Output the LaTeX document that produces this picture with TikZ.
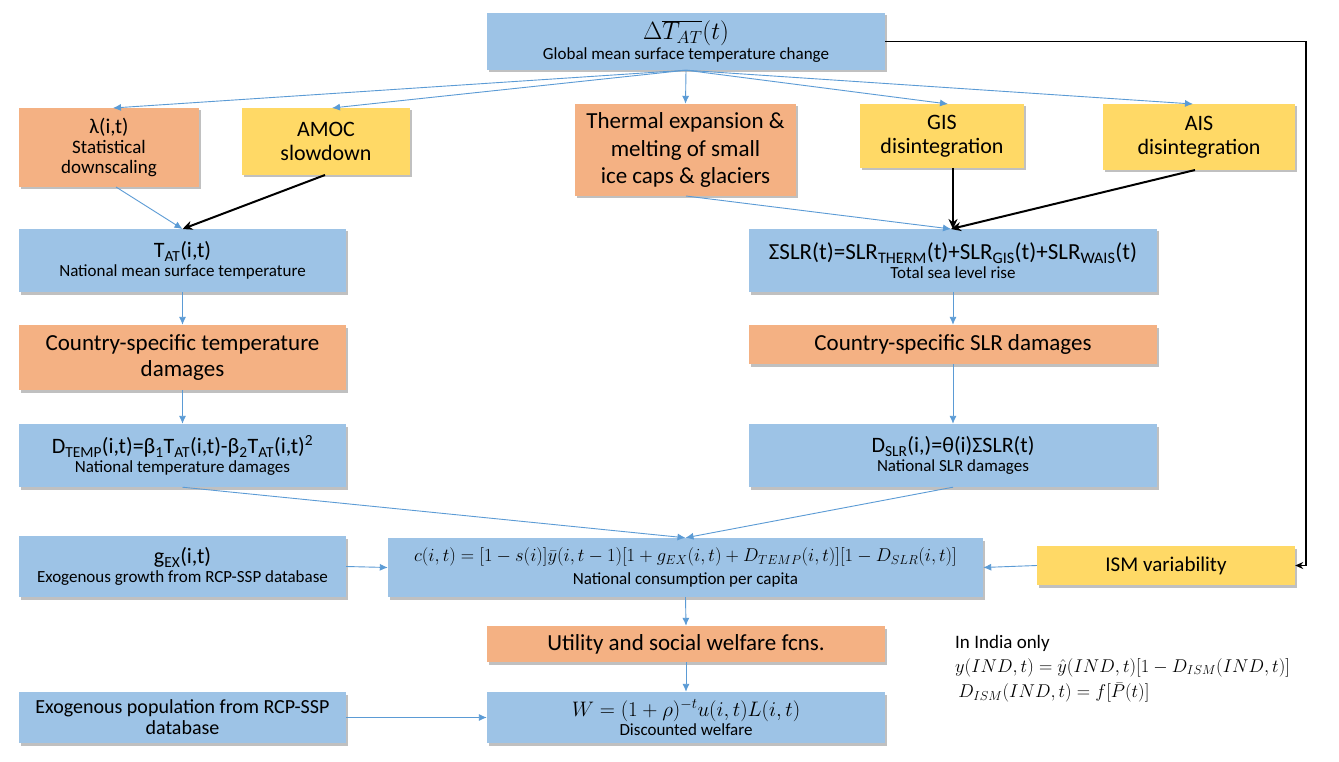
\RequirePackage{fix-cm}
\documentclass[tikz,border=0pt]{standalone}
\usepackage{fontspec}
\setmainfont{Carlito}
\usetikzlibrary{arrows.meta,shadows}
\newcommand\tsub[1]{\textsubscript{#1}}
\newcommand\tsup[1]{\textsuperscript{#1}}
\newcommand\fs[1]{\fontsize{#1}{1.2\dimexpr #1pt\relax}\selectfont}
\definecolor{bluebox}{HTML}{9DC3E6}
\definecolor{orangebox}{HTML}{F4B183}
\definecolor{yellowbox}{HTML}{FFD966}
\definecolor{bluearrow}{HTML}{5B9BD5}
\begin{document}
\begin{tikzpicture}[x=1pt,y=-1pt,
  box/.style={rectangle, inner sep=0pt, align=center, text=black,
    drop shadow={shadow xshift=2pt, shadow yshift=-2.5pt, opacity=0.35, fill=black!70}},
  bbox/.style={box, fill=bluebox},
  obox/.style={box, fill=orangebox},
  ybox/.style={box, fill=yellowbox},
  barrow/.style={draw=bluearrow, line width=0.9pt, -{Latex[length=8pt,width=7pt]}},
  karrow/.style={draw=black, line width=2pt, -{Stealth[length=10pt,width=9pt]}}
]
\useasboundingbox (0,0) rectangle (1339,762);
\fill[white] (0,0) rectangle (1339,762);

\node[bbox, minimum width=398pt, minimum height=57pt, font=\fs{17}] (top) at (686,41.5)
  {{\fs{25}$\Delta\overline{T_{AT}}(t)$}\\[-1pt]Global mean surface temperature change};

\node[obox, minimum width=180pt, minimum height=79pt, font=\fs{19}] (lam) at (109,147.5)
  {{\fs{21}λ(i,t)}\\[-3pt]Statistical\\[-3pt]downscaling};
\node[ybox, minimum width=168pt, minimum height=67pt, font=\fs{22}] (amoc) at (326,141.5)
  {AMOC\\[-2pt]slowdown};
\node[obox, minimum width=221pt, minimum height=92pt, font=\fs{23}] (therm) at (685.5,150)
  {Thermal expansion \&\\[-0.5pt]melting of small\\[-0.5pt]ice caps \& glaciers};
\node[ybox, minimum width=164pt, minimum height=64pt, font=\fs{22}] (gis) at (942,136)
  {GIS\\[-2pt]disintegration};
\node[ybox, minimum width=192pt, minimum height=66pt, font=\fs{22}] (ais) at (1199,137)
  {AIS\\[-2pt]disintegration};

\node[bbox, minimum width=327pt, minimum height=63pt, font=\fs{17}] (tat) at (182.5,260.5)
  {{\fs{22}T\tsub{AT}(i,t)}\\[-2pt]National mean surface temperature};
\node[bbox, minimum width=408pt, minimum height=63pt, font=\fs{17}] (slr) at (953,260.5)
  {{\fs{23}ΣSLR(t)=SLR\tsub{THERM}(t)+SLR\tsub{GIS}(t)+SLR\tsub{WAIS}(t)}\\[-2pt]Total sea level rise};

\node[obox, minimum width=327pt, minimum height=65pt, font=\fs{23}] (ctd) at (182.5,357.5)
  {Country-specific temperature\\[-1pt]damages};
\node[obox, minimum width=408pt, minimum height=39pt, font=\fs{23}] (csd) at (953,344.5)
  {Country-specific SLR damages};

\node[bbox, minimum width=327pt, minimum height=63pt, font=\fs{17}] (dtemp) at (182.5,455.5)
  {{\fs{22}D\tsub{TEMP}(i,t)=β\tsub{1}T\tsub{AT}(i,t)-β\tsub{2}T\tsub{AT}(i,t)\tsup{2}}\\[-2pt]National temperature damages};
\node[bbox, minimum width=408pt, minimum height=63pt, font=\fs{17}] (dslr) at (953,455.5)
  {{\fs{22}D\tsub{SLR}(i,)=θ(i)ΣSLR(t)}\\[-2pt]National SLR damages};

\node[bbox, minimum width=327pt, minimum height=61pt, font=\fs{17}] (gex) at (182.5,566.5)
  {{\fs{22}g\tsub{EX}(i,t)}\\[-2pt]Exogenous growth from RCP-SSP database};
\node[bbox, minimum width=595pt, minimum height=59pt, font=\fs{17}] (cons) at (685.5,567.5)
  {{\fs{18.5}$c(i,t)=[1-s(i)]\bar{y}(i,t-1)[1+g_{EX}(i,t)+D_{TEMP}(i,t)][1-D_{SLR}(i,t)]$}\\[2pt]National consumption per capita};
\node[ybox, minimum width=258pt, minimum height=39pt, font=\fs{21}] (ism) at (1166,565.5)
  {ISM variability};

\node[obox, minimum width=398pt, minimum height=36pt, font=\fs{23}] (util) at (686,644)
  {Utility and social welfare fcns.};
\node[bbox, minimum width=398pt, minimum height=51pt, font=\fs{17}] (wel) at (686,717.5)
  {{\fs{21}$W=(1+\rho)^{-t}u(i,t)L(i,t)$}\\[-1pt]Discounted welfare};
\node[bbox, minimum width=327pt, minimum height=51pt, font=\fs{20}] (pop) at (182.5,717.5)
  {Exogenous population from RCP-SSP\\[-3pt]database};

\node[anchor=north west, inner sep=0pt, align=left, font=\fs{19}] (india) at (955,635)
  {In India only\\[1pt]
   {\fs{18.5}$y(IND,t)=\hat{y}(IND,t)[1-D_{ISM}(IND,t)]$}\\[3pt]
   {\fs{18.5}$\,D_{ISM}(IND,t)=f[\bar{P}(t)]$}};

% blue fan from top
\draw[barrow] (top.south) -- (113,108);
\draw[barrow] (top.south) -- (332,108);
\draw[barrow] (top.south) -- (therm.north);
\draw[barrow] (top.south) -- (948,104);
\draw[barrow] (top.south) -- (1193,104);

\coordinate (tatin) at (182.5,229);
\coordinate (slrin) at (951,229);
\draw[barrow] (116,187) -- (tatin);
\draw[karrow] (325,175) -- (tatin);
\draw[barrow] (686,196) -- (slrin);
\draw[karrow] (953,168) -- (953,229);
\draw[karrow] (1195,170) -- (slrin);

\draw[barrow] (tat.south) -- (ctd.north);
\draw[barrow] (ctd.south) -- (dtemp.north);
\draw[barrow] (slr.south) -- (csd.north);
\draw[barrow] (csd.south) -- (dslr.north);

\draw[barrow] (dtemp.south) -- (cons.north);
\draw[barrow] (dslr.south) -- (cons.north);
\draw[barrow] (gex.east) -- (cons.west);
\draw[barrow] (ism.west) -- (cons.east);
\draw[barrow] (cons.south) -- (util.north);
\draw[barrow] (util.south) -- (wel.north);
\draw[barrow] (pop.east) -- (wel.west);

\coordinate (r1) at (1306,41.5);
\coordinate (r2) at (1306,565.5);
\draw[draw=black, line width=1.6pt, -{Stealth[length=8pt,width=7pt]}] (top.east) -- (r1) -- (r2) -- (ism.east);
\end{tikzpicture}
\end{document}
